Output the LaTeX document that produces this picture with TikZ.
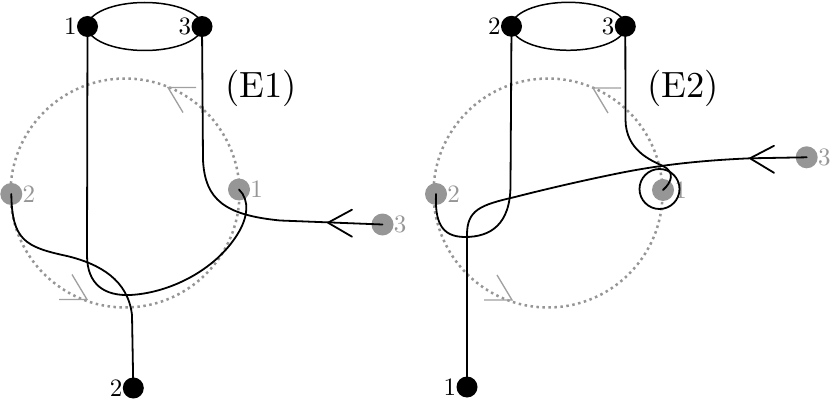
\documentclass[tikz,border=0pt]{standalone}
\pgfdeclarelayer{bg}
\pgfdeclarelayer{mid}
\pgfsetlayers{bg,mid,main}
\definecolor{gdot}{RGB}{150,150,150}
\definecolor{gnode}{RGB}{150,150,150}
\definecolor{garr}{RGB}{160,160,160}
\font\labfont="[lmroman10-regular]" at 25pt
\font\efont="[lmroman10-regular]" at 36.5pt
\begin{document}
\begin{tikzpicture}[x=1pt,y=-1pt,
 bnode/.style={circle,fill=black,inner sep=0pt,minimum size=21pt},
 gnodest/.style={circle,fill=gnode,inner sep=0pt,minimum size=22pt},
 blab/.style={font=\labfont,inner sep=0pt,text=black},
 glab/.style={font=\labfont,inner sep=0pt,text=gnode},
 elab/.style={font=\efont,inner sep=0pt,anchor=base},
 strand/.style={line width=1.8pt,line cap=round,line join=round},
 dotc/.style={draw=gdot,line width=2.5pt,dash pattern=on 2.5pt off 3.5pt},
 garrow/.style={draw=garr,line width=1.3pt},
 ring/.style={line width=1.5pt}]
\useasboundingbox (0,0) rectangle (830,401);
% ---------------- E1 ----------------
\node[bnode,label={[blab]left:1}] (Ab1) at (87.5,26.5) {};
\node[bnode,label={[blab]left:3}] (Ab3) at (202,26.5) {};
\node[bnode,label={[blab]left:2}] (Ab2) at (133.3,388) {};
\begin{pgfonlayer}{bg}
\fill[white] (0,0) rectangle (830,401);
\draw[dotc] (125,193) circle[radius=114.5pt];
\node[gnodest,label={[glab]right:2}] (Ag2) at (11.3,194) {};
\node[gnodest,label={[glab]right:1}] (Ag1) at (239,189.5) {};
\node[gnodest,label={[glab]right:3}] (Ag3) at (382.5,224.5) {};
\coordinate (Aga) at (168,87.5);
\draw[garrow] (Aga) ++(28,0) -- (Aga) -- ++(15,25);
\coordinate (Agb) at (87,299.5);
\draw[garrow] (Agb) ++(-28,0) -- (Agb) -- ++(-15,-25);
\end{pgfonlayer}
\draw[ring] (Ab1.center) arc[start angle=180,end angle=0,x radius=57.25pt,y radius=24pt];
\draw[ring] (Ab1.center) arc[start angle=180,end angle=360,x radius=57.25pt,y radius=24pt];
\begin{pgfonlayer}{mid}
\draw[strand] (Ab1.center) -- (87,255) .. controls (87,285) and (105,296) .. (130,295)
  .. controls (170,293) and (215,270) .. (237,235) .. controls (248,218) and (250,200) .. (Ag1.center);
\draw[strand] (Ab3.center) -- (203,160) .. controls (205,200) and (225,215) .. (280,220.5) -- (Ag3.center);
\draw[strand] (Ag2.center) .. controls (12,240) and (25,247) .. (67,256)
  .. controls (100,264) and (128,280) .. (132,315) -- (Ab2.center);
\coordinate (Aa) at (328,222.7);
\draw[strand] (Aa) ++(24,-13) -- (Aa) -- ++(24,14);
\end{pgfonlayer}
\node[elab] (E1) at (261,98) {(E1)};
% ---------------- E2 ----------------
\node[bnode,label={[blab]left:2}] (Bb2) at (511.5,26.3) {};
\node[bnode,label={[blab]left:3}] (Bb3) at (625.3,26.3) {};
\node[bnode,label={[blab]left:1}] (Bb1) at (467,387) {};
\begin{pgfonlayer}{bg}
\draw[dotc] (548,193) circle[radius=114.5pt];
\node[gnodest,label={[glab]right:2}] (Bg2) at (436,194) {};
\node[gnodest,label={[glab]right:1}] (Bg1) at (663,190) {};
\node[gnodest,label={[glab]right:3}] (Bg3) at (806.7,157.3) {};
\coordinate (Bga) at (593,88);
\draw[garrow] (Bga) ++(28,0) -- (Bga) -- ++(15,25);
\coordinate (Bgb) at (512,300);
\draw[garrow] (Bgb) ++(-28,0) -- (Bgb) -- ++(-15,-25);
\end{pgfonlayer}
\draw[ring] (Bb2.center) arc[start angle=180,end angle=0,x radius=56.9pt,y radius=24pt];
\draw[ring] (Bb2.center) arc[start angle=180,end angle=360,x radius=56.9pt,y radius=24pt];
\begin{pgfonlayer}{mid}
\draw[strand] (Bb2.center) -- (510.5,185) .. controls (510.5,225) and (490,237) .. (465,237)
  .. controls (440,237) and (435,220) .. (Bg2.center);
\draw[strand] (Bg3.center) -- (750,158.3) .. controls (700,160.5) and (660,165) .. (620,173)
  .. controls (590,179) and (550,188) .. (515,197) .. controls (480,205) and (467,210) .. (467,235) -- (Bb1.center);
\draw[strand] (Bb3.center) -- (625.5,120) .. controls (626,150) and (650,160) .. (663,166)
  .. controls (675,172) and (672,182) .. (Bg1.center);
\coordinate (Bloop) at (659.5,189);
\draw[strand] (Bloop) circle[radius=20pt];
\coordinate (Ba) at (750,158.3);
\draw[strand] (Ba) ++(24,-12.5) -- (Ba) -- ++(24,14.5);
\end{pgfonlayer}
\node[elab] (E2) at (683,98) {(E2)};
\end{tikzpicture}
\end{document}
